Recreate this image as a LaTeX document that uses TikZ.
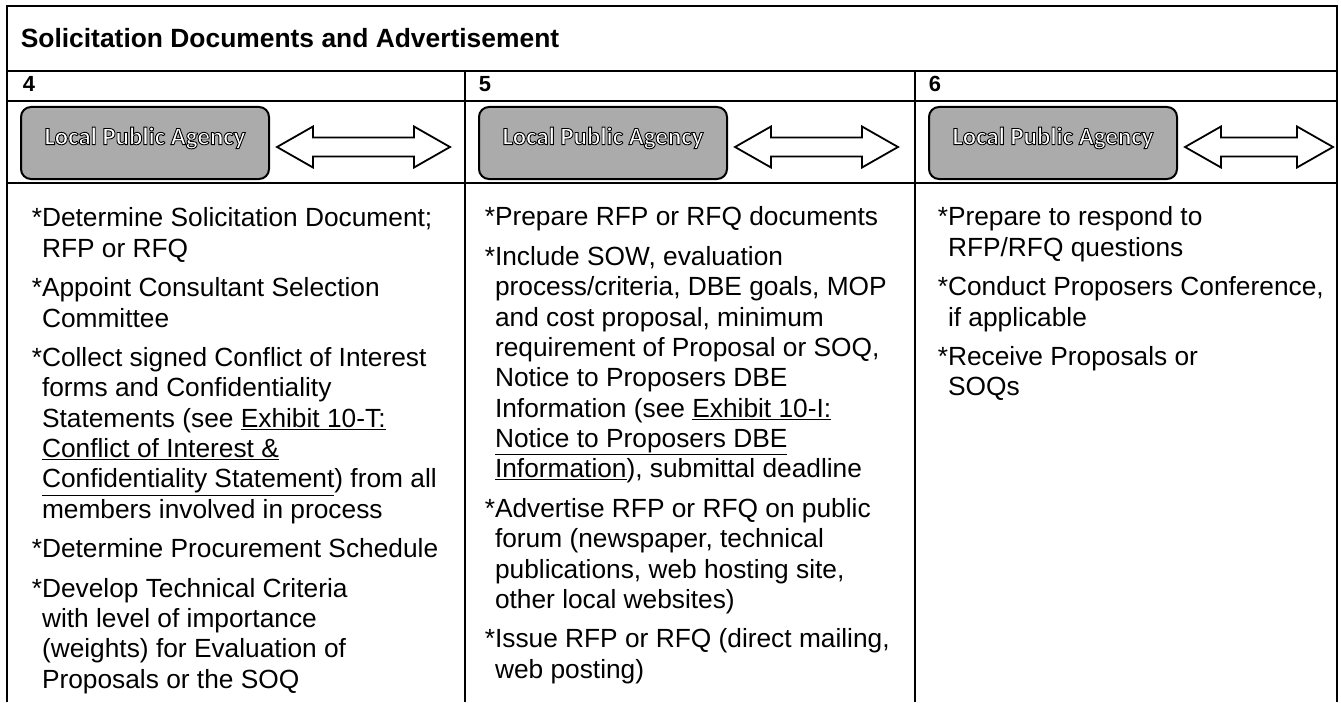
\documentclass[tikz,border=0pt]{standalone}
\usepackage{fontspec}
\setmainfont{Liberation Sans}
\newfontfamily\agencyfont{Carlito}
\usepackage{tikz}
\usetikzlibrary{calc}
\usetikzlibrary{positioning}
\newcommand{\ind}{\phantom{*}}
\newcommand{\outlined}[1]{\leavevmode\special{pdf:literal direct 0 0 0 RG 2 Tr 0.9 w}#1\special{pdf:literal direct 0 Tr}}
\tikzset{
	pics/stage/.style = {code = {

			\draw[agencybox] (14,6) rectangle (262,78);
			\node[agencytext] (-label) at (138,37) {\outlined{Local Public Agency}};

			\draw[dblarrow] (270,46) -- ++(36,-20.5) -- ++(0,11) -- (#1-36,36.5) -- ++(0,-11) -- (#1,46)
				-- (#1-36,66.5) -- ++(0,-11) -- (306,55.5) -- ++(0,11) -- cycle;

			}}
		}

\begin{document}
\begin{tikzpicture}
		[x=1bp, y=-1bp,
		line width=1.6bp,
		agencybox/.style = {draw=black, line width=2bp, rounded corners=10bp, fill=black!33},
		agencytext/.style = {font=\agencyfont\bfseries\fontsize{25}{27}\selectfont, text=white, inner sep=0},
		dblarrow/.style = {draw=black, line width=1.8bp, fill=white, line join=miter},
		titletext/.style = {font=\bfseries\fontsize{26.5}{30}\selectfont, inner sep=0, anchor=base west},
		numtext/.style = {font=\bfseries\fontsize{22}{24}\selectfont, inner sep=0, anchor=base west},
		itemtext/.style = {font=\fontsize{26.4}{30.5}\selectfont, align=left, inner sep=0, anchor=north west}
		]
		\useasboundingbox (0,0) rectangle (1341,702);

		\coordinate (c4) at (7,101);
		\coordinate (c5) at (465,101);
		\coordinate (c6) at (915,101);
		\coordinate (end) at (1337,101);

		\draw (7,702) -- (7,6) -- (1337,6) -- (1337,702);
		\draw (7,71) -- (1337,71);
		\draw (c4) -- (end);
		\draw ($(c4)+(0,82)$) -- ($(end)+(0,82)$);
		\draw (465,71) -- (465,702);
		\draw (915,71) -- (915,702);

		\node[titletext] (title) at (20,48) {Solicitation Documents and Advertisement};

		\node[numtext] (n4) at ($(c4)+(15,-9)$) {4};
		\node[numtext] (n5) at ($(c5)+(13,-9)$) {5};
		\node[numtext] (n6) at ($(c6)+(13,-9)$) {6};

		\pic (s4) at (c4) {stage=443};
		\pic (s5) at (c5) {stage=433};
		\pic (s6) at (c6) {stage=418};

		\node[itemtext] (t4) at ($(c4)+(24,106)$) {%
			*Determine Solicitation Document;\\
			\ind RFP or RFQ\\[9bp]
			*Appoint Consultant Selection\\
			\ind Committee\\[9bp]
			*Collect signed Conflict of Interest\\
			\ind forms and Confidentiality\\
			\ind Statements (see \underline{Exhibit 10-T:}\\
			\ind \underline{Conflict of Interest \&}\\
			\ind \underline{Confidentiality Statement}) from all\\
			\ind members involved in process\\[9bp]
			*Determine Procurement Schedule\\[9bp]
			*Develop Technical Criteria\\
			\ind with level of importance\\
			\ind (weights) for Evaluation of\\
			\ind Proposals or the SOQ};

		\node[itemtext] (t5) at ($(c5)+(19,105)$) {%
			*Prepare RFP or RFQ documents\\[9bp]
			*Include SOW, evaluation\\
			\ind process/criteria, DBE goals, MOP\\
			\ind and cost proposal, minimum\\
			\ind requirement of Proposal or SOQ,\\
			\ind Notice to Proposers DBE\\
			\ind Information (see \underline{Exhibit 10-I:}\\
			\ind \underline{Notice to Proposers DBE}\\
			\ind \underline{Information}), submittal deadline\\[9bp]
			*Advertise RFP or RFQ on public\\
			\ind forum (newspaper, technical\\
			\ind publications, web hosting site,\\
			\ind other local websites)\\[9bp]
			*Issue RFP or RFQ (direct mailing,\\
			\ind web posting)};

		\node[itemtext] (t6) at ($(c6)+(22,105)$) {%
			*Prepare to respond to\\
			\ind RFP/RFQ questions\\[9bp]
			*Conduct Proposers Conference,\\
			\ind if applicable\\[9bp]
			*Receive Proposals or\\
			\ind SOQs};
	\end{tikzpicture}
\end{document}
